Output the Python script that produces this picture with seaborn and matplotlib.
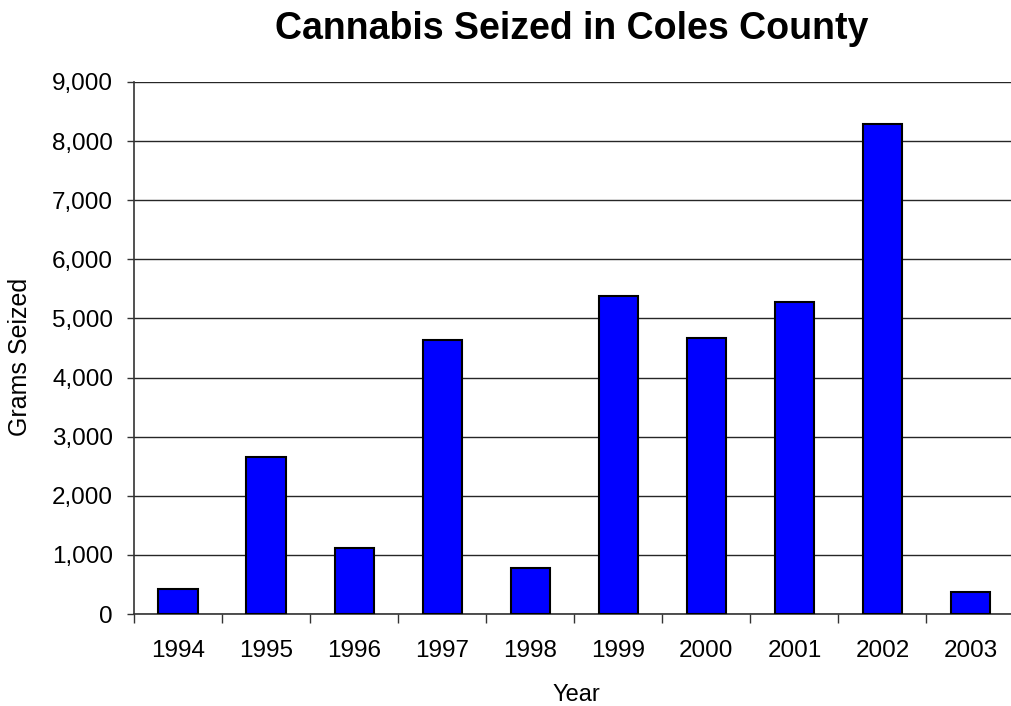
import matplotlib
matplotlib.use("Agg")
import matplotlib.pyplot as plt
from matplotlib.ticker import FuncFormatter, FixedLocator
import seaborn as sns
import pandas as pd

years = ["1994", "1995", "1996", "1997", "1998", "1999", "2000", "2001", "2002", "2003"]
grams = [420, 2660, 1110, 4630, 770, 5380, 4670, 5280, 8290, 365]
y_ticks = [0, 1000, 2000, 3000, 4000, 5000, 6000, 7000, 8000, 9000]

title = "Cannabis Seized in Coles County"
x_label = "Year"
y_label = "Grams Seized"

sns.set_theme(style="white")
plt.rcParams["font.family"] = ["Liberation Sans", "DejaVu Sans"]
plt.rcParams["text.color"] = "black"

df = pd.DataFrame({"Year": years, "Grams": grams})

fig = plt.figure(figsize=(10.11, 7.06), dpi=100)
ax = fig.add_axes([0.1325, 0.1303, 0.871, 0.7537])

sns.barplot(data=df, x="Year", y="Grams", color="#0000FF", saturation=1,
            edgecolor="black", linewidth=1.5, width=0.444, ax=ax, zorder=3)

ax.set_xlim(-0.5, len(years) - 0.5)
ax.set_ylim(0, 9000)
ax.yaxis.set_major_locator(FixedLocator(y_ticks))
ax.yaxis.set_major_formatter(FuncFormatter(lambda v, p: f"{int(v):,}"))
ax.grid(axis="y", color="#262626", linewidth=1.0, zorder=0)
ax.set_axisbelow(True)

# category separators as minor ticks on the x axis
ax.set_xticks([i - 0.5 for i in range(len(years))], minor=True)
ax.tick_params(axis="x", which="major", length=0, pad=19, labelsize=17.5, colors="black")
ax.tick_params(axis="x", which="minor", length=6.5, width=1, color="#333333", direction="out", bottom=True)
ax.tick_params(axis="y", which="major", length=5, width=1, color="#333333", direction="out",
               left=True, labelsize=17.5, colors="black", pad=10)

for side in ["top", "right"]:
    ax.spines[side].set_visible(False)
ax.spines["left"].set_color("#333333")
ax.spines["left"].set_linewidth(1.2)
ax.spines["bottom"].set_color("#333333")
ax.spines["bottom"].set_linewidth(1.2)

ax.set_xlabel(x_label, fontsize=17, color="black")
ax.set_ylabel(y_label, fontsize=18, color="black")
ax.xaxis.set_label_coords(0.502, -0.131)
ax.yaxis.set_label_coords(-0.116, 0.483)
fig.text(0.565, 0.959, title, ha="center", va="center", fontsize=27,
         fontweight="bold", color="black")

fig.savefig("out.png", dpi=100)
